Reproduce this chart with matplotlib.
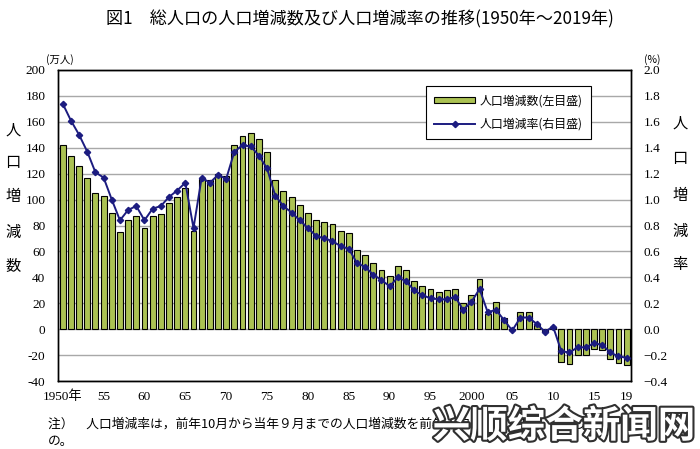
import matplotlib
matplotlib.use("Agg")
import matplotlib.pyplot as plt
import matplotlib.patheffects as pe
from matplotlib.lines import Line2D
from matplotlib.patches import Patch

plt.rcParams['font.family'] = ['Noto Sans CJK JP', 'DejaVu Sans']

years = list(range(1950, 2020))
change = [142, 134, 126, 117, 105, 103, 90, 75, 84, 87,
          78, 87, 89, 97, 102, 109, 76, 116, 115, 120,
          118, 142, 149, 151, 147, 137, 115, 107, 102, 96,
          90, 84, 83, 81, 76, 74, 61, 57, 51, 46,
          41, 49, 46, 37, 33, 31, 29, 30, 31, 20,
          26, 39, 12, 21, 9, -1, 13, 13, 3, -2,
          2, -25, -27, -20, -20, -15, -16, -23, -26, -28]
rate = [1.74, 1.61, 1.50, 1.37, 1.21, 1.17, 1.00, 0.84, 0.92, 0.95,
        0.84, 0.93, 0.95, 1.02, 1.07, 1.13, 0.78, 1.17, 1.13, 1.19,
        1.16, 1.37, 1.42, 1.41, 1.34, 1.24, 1.03, 0.95, 0.90, 0.84,
        0.78, 0.72, 0.70, 0.68, 0.64, 0.62, 0.51, 0.48, 0.42, 0.38,
        0.33, 0.40, 0.37, 0.30, 0.26, 0.24, 0.23, 0.23, 0.25, 0.15,
        0.21, 0.31, 0.13, 0.15, 0.07, -0.01, 0.09, 0.09, 0.04, -0.02,
        0.02, -0.17, -0.18, -0.14, -0.14, -0.11, -0.12, -0.18, -0.21, -0.22]
xtick_years = [1950, 1955, 1960, 1965, 1970, 1975, 1980, 1985, 1990, 1995,
               2000, 2005, 2010, 2015, 2019]
xtick_labels = ['1950年', '55', '60', '65', '70', '75', '80', '85', '90', '95',
                '2000', '05', '10', '15', '19']
left_ticks = list(range(-40, 201, 20))
right_ticks = [-0.4, -0.2, 0.0, 0.2, 0.4, 0.6, 0.8, 1.0, 1.2, 1.4, 1.6, 1.8, 2.0]

title = '図1　総人口の人口増減数及び人口増減率の推移(1950年～2019年)'
bar_label = '人口増減数(左目盛)'
line_label = '人口増減率(右目盛)'
note1 = '注）　人口増減率は，前年10月から当年９月までの人口増減数を前年人口（期首人口）で除したも'
note2 = 'の。'
watermark = '兴顺综合新闻网'

numfont = 'Liberation Serif'

fig = plt.figure(figsize=(7.0, 4.49), dpi=100)
ax = fig.add_axes([58/700, 1-381/449, 573/700, 311/449])
ax2 = ax.twinx()

ax.bar(years, change, width=0.72, color='#abc253', edgecolor='black',
       linewidth=0.8, zorder=3)
ax.set_ylim(-40, 200)
ax.set_xlim(1949.42, 2019.53)
ax.set_yticks(left_ticks)
ax.set_yticklabels([str(v) for v in left_ticks], fontfamily=numfont, fontsize=9.5)
ax.yaxis.grid(True, color='#a8a8a8', linewidth=1.0, zorder=0)
ax.set_axisbelow(True)
ax.set_xticks(xtick_years)
ax.set_xticklabels(xtick_labels)
for lab in ax.get_xticklabels():
    lab.set_fontfamily([numfont, 'Noto Sans CJK JP'])
    lab.set_fontsize(9.5)
ax.tick_params(axis='both', length=0, pad=9)
ax.tick_params(axis='x', pad=7)

ax2.plot(years, rate, color='#1c1c80', linewidth=1.4, marker='D',
         markersize=3.2, zorder=5)
ax2.set_ylim(-0.4, 2.0)
ax2.set_yticks(right_ticks)
ax2.set_yticklabels([f'{v:.1f}'.replace('-', '−') for v in right_ticks],
                    fontfamily=numfont, fontsize=9.5)
ax2.tick_params(axis='y', length=0, pad=9)

for a in (ax, ax2):
    for s in a.spines.values():
        s.set_color('black')
        s.set_linewidth(1.0)

handles = [Patch(facecolor='#abc253', edgecolor='black', linewidth=0.8),
           Line2D([], [], color='#1c1c80', linewidth=1.4, marker='D', markersize=3.2)]
leg = ax2.legend(handles, [bar_label, line_label], loc='upper left',
                 bbox_to_anchor=(420/700, 1-80/449), bbox_transform=fig.transFigure,
                 fontsize=8.6, frameon=True, fancybox=False, edgecolor='black',
                 framealpha=1, handlelength=3.4, handleheight=0.45,
                 borderpad=0.7, labelspacing=0.85, handletextpad=0.4)
leg.get_frame().set_linewidth(0.8)

fig.text(360/700, 1-19/449, title, ha='center', va='center', fontsize=12.3)
fig.text(60/700, 1-60/449, '(万人)', ha='center', va='center', fontsize=7.5)
fig.text(652/700, 1-60/449, '(%)', ha='center', va='center', fontsize=7.5)

for ch, y in zip('人口増減数', [130, 163, 197, 232, 267]):
    fig.text(13/700, 1-y/449, ch, ha='center', va='center', fontsize=11)
for ch, y in zip('人口増減率', [123, 158, 195, 231, 264]):
    fig.text(680/700, 1-y/449, ch, ha='center', va='center', fontsize=11)

fig.text(48/700, 1-424/449, note1, ha='left', va='center', fontsize=9.2, zorder=1)
fig.text(48/700, 1-441/449, note2, ha='left', va='center', fontsize=9.2, zorder=1)

fig.text(564/700, 1-426/449, watermark, ha='center', va='center', fontsize=27,
         fontfamily=['Noto Sans CJK SC', 'DejaVu Sans'], fontweight='bold',
         color='white', zorder=10,
         path_effects=[pe.withStroke(linewidth=3, foreground='#303030')])

fig.savefig('out.png', dpi=100)
